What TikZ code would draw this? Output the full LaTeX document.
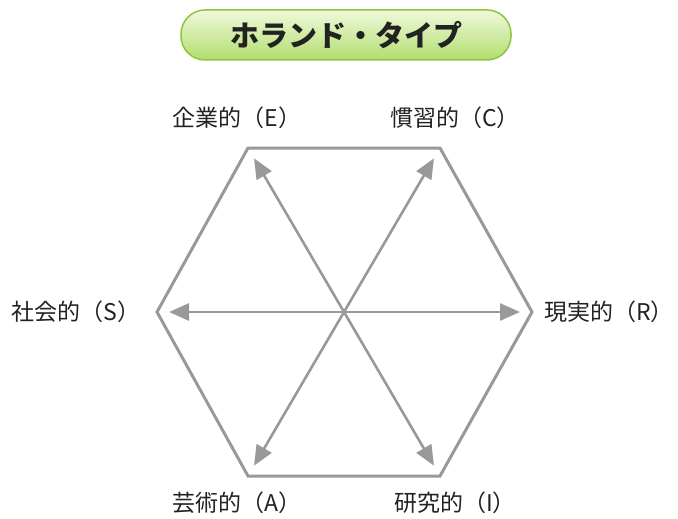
\documentclass[tikz,border=0pt]{standalone}
\usepackage{fontspec}
\setmainfont{Noto Sans CJK JP}
\usetikzlibrary{arrows.meta, positioning}
\definecolor{hexgray}{RGB}{153, 153, 153}
\definecolor{titleedge}{RGB}{140, 198, 63}
\definecolor{titletop}{RGB}{240, 249, 220}
\definecolor{titlebottom}{RGB}{178, 222, 110}
\definecolor{labeltext}{RGB}{34, 34, 34}

\begin{document}
\begin{tikzpicture}[
  x=1pt, y=-1pt,
  titlebox/.style={
    draw=titleedge,
    line width=1.5pt,
    rounded corners=24pt,
    top color=titletop,
    bottom color=titlebottom,
    minimum width=330pt,
    minimum height=50pt,
    font=\fontsize{29}{29}\selectfont\bfseries,
    text=labeltext,
  },
  hexline/.style={
    draw=hexgray,
    line width=3pt,
  },
  typearrow/.style={
    draw=hexgray,
    line width=2.6pt,
    -{Triangle[length=20pt, width=17pt]},
    shorten >=12pt,
  },
  typelabel/.style={
    font=\fontsize{23}{23}\selectfont,
    text=labeltext,
    inner sep=0pt,
  }
]
  \useasboundingbox (0,0) rectangle (678,519);

  % === title ===
  \node[titlebox] (title) at (346, 35) {ホランド・タイプ};

  % === hexagon corners ===
  \coordinate (mid) at (344, 312);
  \coordinate (r) at (532, 312);
  \coordinate (c) at (440, 148);
  \coordinate (e) at (248, 148);
  \coordinate (s) at (157, 312);
  \coordinate (a) at (248, 476);
  \coordinate (i) at (440, 476);

  \draw[hexline] (r) -- (c) -- (e) -- (s) -- (a) -- (i) -- cycle;

  % arrows out of the middle
  \draw[typearrow] (mid) -- (r);
  \draw[typearrow] (mid) -- (c);
  \draw[typearrow] (mid) -- (e);
  \draw[typearrow] (mid) -- (s);
  \draw[typearrow] (mid) -- (a);
  \draw[typearrow] (mid) -- (i);

  % === type names ===
  \node[typelabel] (e-lab) at (237, 118) {企業的（E）};
  \node[typelabel] (c-lab) at (455, 118) {慣習的（C）};
  \node[typelabel] (s-lab) at (76, 312) {社会的（S）};
  \node[typelabel] (r-lab) at (609, 312) {現実的（R）};
  \node[typelabel] (a-lab) at (237, 503) {芸術的（A）};
  \node[typelabel] (i-lab) at (455, 503) {研究的（I）};

\end{tikzpicture}
\end{document}
